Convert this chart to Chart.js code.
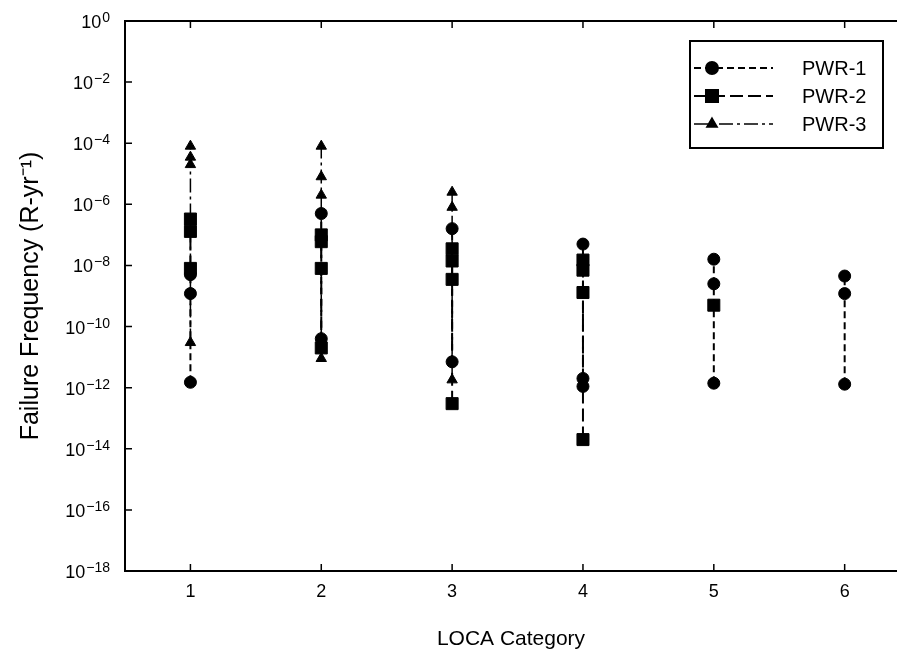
<!DOCTYPE html>
<html><head><meta charset="utf-8">
<script src="https://cdn.jsdelivr.net/npm/chart.js@4/dist/chart.umd.min.js"></script>
<style>html,body{margin:0;padding:0;background:#fff;overflow:hidden}#wrap{width:897px;height:654px;position:relative}</style>
</head><body><div id="wrap"><canvas id="c"></canvas></div>
<script>
// ---- data ----
const categories = [1, 2, 3, 4, 5, 6];
const seriesNames = ['PWR-1', 'PWR-2', 'PWR-3'];
const pwr1 = [[1.5e-12, 1.2e-9, 5e-9], [4e-11, 5e-7], [7e-12, 1.6e-7], [1.1e-12, 2e-12, 5e-8], [1.4e-12, 2.5e-9, 1.6e-8], [1.3e-12, 1.2e-9, 4.5e-9]];
const pwr2 = [[8e-9, 1.3e-7, 3.3e-7], [2e-11, 8e-9, 6e-8, 1e-7], [3e-13, 3.5e-9, 1.4e-8, 3.5e-8], [2e-14, 1.3e-9, 7e-9, 1.5e-8], [5e-10], []];
const pwr3 = [[3e-11, 2e-5, 3.5e-5, 8e-5], [9e-12, 2e-6, 8e-6, 8e-5], [1.8e-12, 8e-7, 2.5e-6], [], [], []];
const yTickExponents = [0, -2, -4, -6, -8, -10, -12, -14, -16, -18];
const xTickLabels = ['1', '2', '3', '4', '5', '6'];

const FONT = '"Liberation Sans", Arial, Helvetica, sans-serif';

function build(vals) {
  const d = [];
  categories.forEach((c, i) => {
    if (!vals[i].length) return;
    if (d.length) d.push({x: c, y: null});
    vals[i].slice().sort((a, b) => a - b).forEach(v => d.push({x: c, y: v}));
  });
  return d;
}

// inward tick marks and top frame line, placed from the library's scales
const frame = {
  id: 'frame',
  afterDatasetsDraw(chart) {
    const {ctx, chartArea: a, scales: {x, y}} = chart;
    ctx.save();
    ctx.strokeStyle = '#000';
    ctx.setLineDash([]);
    ctx.lineWidth = 2;
    ctx.beginPath();
    ctx.moveTo(a.left, a.top); ctx.lineTo(a.right, a.top);
    ctx.stroke();
    ctx.lineWidth = 1.5;
    ctx.beginPath();
    x.ticks.forEach(t => {
      const px = x.getPixelForValue(t.value);
      ctx.moveTo(px, a.bottom); ctx.lineTo(px, a.bottom - 7);
      ctx.moveTo(px, a.top); ctx.lineTo(px, a.top + 7);
    });
    y.ticks.forEach(t => {
      const py = y.getPixelForValue(t.value);
      ctx.moveTo(a.left, py); ctx.lineTo(a.left + 7, py);
    });
    ctx.stroke();
    ctx.restore();
  }
};

// y tick labels as 10 with a raised exponent, at the scale's tick positions
const yLabels = {
  id: 'yLabels',
  afterDraw(chart) {
    const {ctx, chartArea: a, scales: {y}} = chart;
    ctx.save();
    ctx.fillStyle = '#000';
    ctx.textBaseline = 'alphabetic';
    ctx.textAlign = 'left';
    y.ticks.forEach(t => {
      const py = y.getPixelForValue(t.value);
      const e = String(Math.round(Math.log10(t.value))).replace('-', '\u2212');
      ctx.font = '14px ' + FONT;
      const we = ctx.measureText(e).width;
      ctx.font = '18px ' + FONT;
      const wb = ctx.measureText('10').width;
      const right = a.left - 15;
      ctx.fillText('10', right - we - wb - 1, py + 7);
      ctx.font = '14px ' + FONT;
      ctx.fillText(e, right - we, py + 1);
    });
    ctx.restore();
  }
};

const legendBox = {
  id: 'legendBox',
  afterDraw(chart) {
    const {ctx, chartArea: a} = chart;
    const L = a.right - 207, T = a.top + 20, W = 193, H = 107;
    ctx.save();
    ctx.fillStyle = '#fff';
    ctx.fillRect(L, T, W, H);
    ctx.strokeStyle = '#000'; ctx.lineWidth = 2; ctx.setLineDash([]);
    ctx.strokeRect(L, T, W, H);
    chart.data.datasets.forEach((ds, i) => {
      const yy = T + 27 + i * 28;
      ctx.strokeStyle = '#000';
      ctx.lineWidth = ds.borderWidth;
      ctx.setLineDash(ds.borderDash || []);
      ctx.beginPath(); ctx.moveTo(L + 4, yy); ctx.lineTo(L + 83, yy); ctx.stroke();
      ctx.setLineDash([]);
      ctx.fillStyle = '#000';
      Chart.helpers.drawPoint(ctx, {pointStyle: ds.pointStyle, radius: ds.pointRadius, borderWidth: 1, rotation: 0}, L + 22, yy);
      ctx.fillStyle = '#000';
      ctx.font = '20px ' + FONT;
      ctx.textBaseline = 'middle';
      ctx.textAlign = 'left';
      ctx.fillText(ds.label, L + 112, yy + 1);
    });
    ctx.restore();
  }
};

const styles = [
  {pointStyle: 'circle', pointRadius: 6, borderWidth: 2, borderDash: [7, 4]},
  {pointStyle: 'rect', pointRadius: 8.5, borderWidth: 2, borderDash: [13, 5]},
  {pointStyle: 'triangle', pointRadius: 6, borderWidth: 1.5, borderDash: [14, 4, 3, 4]}
];
const seriesData = [pwr1, pwr2, pwr3];

new Chart(document.getElementById('c'), {
  type: 'line',
  data: {
    datasets: seriesNames.map((n, i) => Object.assign({
      label: n,
      data: build(seriesData[i]),
      borderColor: '#000',
      backgroundColor: '#000',
      pointBackgroundColor: '#000',
      pointBorderColor: '#000',
      pointBorderWidth: 1,
      spanGaps: false,
      fill: false,
      tension: 0
    }, styles[i]))
  },
  options: {
    responsive: true,
    maintainAspectRatio: false,
    animation: false,
    layout: {autoPadding: false, padding: {top: 21, right: 0, left: 0, bottom: 0}},
    plugins: {legend: {display: false}, tooltip: {enabled: false}},
    scales: {
      x: {
        type: 'linear', min: 0.5, max: 6.4,
        afterBuildTicks: s => { s.ticks = categories.map(v => ({value: v})); },
        afterFit: s => { s.height = 83; s.paddingLeft = 0; s.paddingRight = 0; },
        grid: {display: true, drawOnChartArea: false, drawTicks: false},
        border: {display: true, color: '#000', width: 2},
        ticks: {color: '#000', padding: 10, font: {family: FONT, size: 18}, maxRotation: 0,
          callback: (v) => xTickLabels[categories.indexOf(v)]},
        title: {display: true, text: 'LOCA Category', color: '#000', font: {family: FONT, size: 21}, padding: {top: 0, bottom: 2}}
      },
      y: {
        type: 'logarithmic', min: 1e-18, max: 1,
        afterBuildTicks: s => { s.ticks = yTickExponents.map(e => ({value: Math.pow(10, e)})); },
        afterFit: s => { s.width = 125; s.paddingTop = 0; s.paddingBottom = 0; },
        grid: {display: true, drawOnChartArea: false, drawTicks: false},
        border: {display: true, color: '#000', width: 2},
        ticks: {display: false},
        title: {display: true, text: 'Failure Frequency (R-yr⁻¹)', color: '#000', font: {family: FONT, size: 25}, padding: {top: 16, bottom: 0}}
      }
    }
  },
  plugins: [frame, yLabels, legendBox]
});
</script>
</body></html>
